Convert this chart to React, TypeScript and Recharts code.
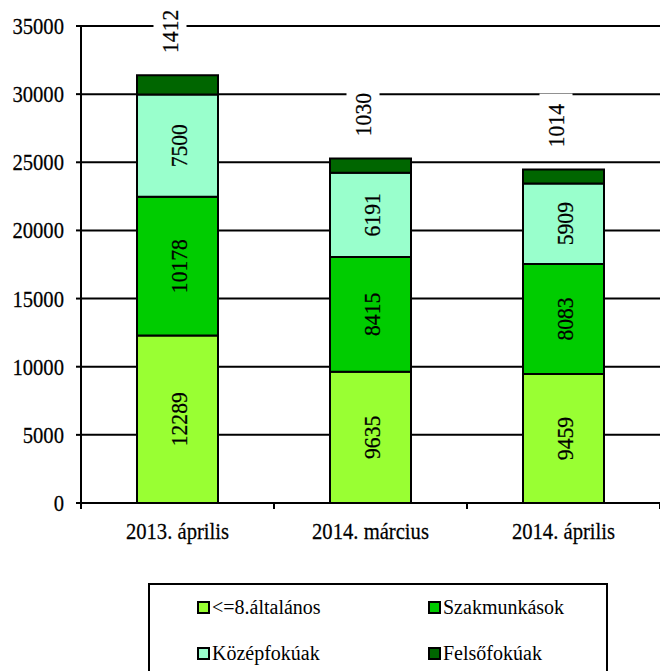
import React from 'react';
import { BarChart, Bar, XAxis, YAxis, CartesianGrid, LabelList } from 'recharts';

const categories = ['2013. április', '2014. március', '2014. április'];
const altalanos = [12289, 9635, 9459];
const szakmunkasok = [10178, 8415, 8083];
const kozepfokuak = [7500, 6191, 5909];
const felsofokuak = [1412, 1030, 1014];
const yTicks = [0, 5000, 10000, 15000, 20000, 25000, 30000, 35000];

const seriesKeys = ['a', 'b', 'c', 'd'];
const seriesNames = ['<=8.általános', 'Szakmunkások', 'Középfokúak', 'Felsőfokúak'];
const seriesColors = ['#99FF33', '#00CC00', '#99FFCC', '#006600'];

const data = categories.map((name, i) => ({
  name,
  a: altalanos[i],
  b: szakmunkasok[i],
  c: kozepfokuak[i],
  d: felsofokuak[i],
}));

const FONT = 'Liberation Serif, Times New Roman, serif';
const W = 660;
const H = 671;
const Y_AXIS_W = 81;
const PLOT_W = W - Y_AXIS_W;
const FS = 24;

const getBox = (props: any) => {
  const vb = props.viewBox || {};
  const x = Number(props.x ?? vb.x);
  const y = Number(props.y ?? vb.y);
  const width = Number(props.width ?? vb.width);
  const height = Number(props.height ?? vb.height);
  return { x, y, width, height };
};

// rotated text whose glyphs are centred on (cx, cy)
const VText = ({ cx, cy, value }: any) => (
  <g transform={`translate(${cx} ${cy}) rotate(-90) scale(0.9 1)`}>
    <text x={0} y={FS * 0.33} textAnchor="middle" fill="#000" stroke="#000" strokeWidth={0.25} fontSize={FS} style={{ fontFamily: FONT }}>
      {value}
    </text>
  </g>
);

const InnerLabel = (props: any) => {
  const { x, y, width, height } = getBox(props);
  return <VText cx={x + width / 2 + 2} cy={y + height / 2} value={props.value} />;
};

const TopLabel = (props: any) => {
  const { x, y, width } = getBox(props);
  const cx = x + width / 2 - 7;
  const cy = y - 44;
  return (
    <g>
      <rect x={cx - 17} y={cy - 32} width={33} height={64} fill="#fff" />
      <VText cx={cx} cy={cy} value={props.value} />
    </g>
  );
};

const XTick = (props: any) => {
  const { x, y, payload, index } = props;
  const step = PLOT_W / categories.length;
  return (
    <g>
      <line x1={x - step / 2} x2={x - step / 2} y1={y} y2={y + 6} stroke="#000" strokeWidth={2} />
      {index === categories.length - 1 && (
        <line x1={x + step / 2} x2={x + step / 2} y1={y} y2={y + 6} stroke="#000" strokeWidth={2} />
      )}
      <g transform={`translate(${x} ${y + 36}) scale(0.86 1)`}>
        <text x={0} y={0} textAnchor="middle" fill="#000" stroke="#000" strokeWidth={0.25} fontSize={FS} style={{ fontFamily: FONT }}>
          {payload.value}
        </text>
      </g>
    </g>
  );
};

const YTick = (props: any) => {
  const { y, payload } = props;
  return (
    <g>
      <line x1={Y_AXIS_W - 5} x2={Y_AXIS_W} y1={y} y2={y} stroke="#000" strokeWidth={2} />
      <g transform={`translate(${Y_AXIS_W - 17} ${y + 8}) scale(0.86 1)`}>
        <text x={0} y={0} textAnchor="end" fill="#000" stroke="#000" strokeWidth={0.25} fontSize={FS} style={{ fontFamily: FONT }}>
          {payload.value}
        </text>
      </g>
    </g>
  );
};

export default function App() {
  return (
    <div
      style={{
        position: 'absolute',
        left: 0,
        top: 0,
        width: W,
        height: H,
        overflow: 'hidden',
        background: '#fff',
        fontFamily: FONT,
      }}
    >
      <BarChart width={W} height={H} data={data} margin={{ top: 26, right: 0, left: 0, bottom: 128 }}>
        <CartesianGrid horizontal vertical={false} stroke="#000" strokeWidth={2} strokeOpacity={1} />
        <XAxis
          dataKey="name"
          height={40}
          axisLine={{ stroke: '#000', strokeWidth: 2 }}
          tickLine={false}
          tickSize={0}
          tickMargin={0}
          tick={<XTick />}
          interval={0}
        />
        <YAxis
          width={Y_AXIS_W}
          domain={[0, 35000]}
          ticks={yTicks}
          interval={0}
          axisLine={{ stroke: '#000', strokeWidth: 2 }}
          tickLine={false}
          tickSize={0}
          tickMargin={0}
          tick={<YTick />}
        />
        {seriesKeys.map((k, i) => (
          <Bar
            key={k}
            dataKey={k}
            name={seriesNames[i]}
            stackId="s"
            fill={seriesColors[i]}
            stroke="#000"
            strokeWidth={2}
            barSize={81}
            isAnimationActive={false}
          >
            <LabelList dataKey={k} content={i === 3 ? <TopLabel /> : <InnerLabel />} />
          </Bar>
        ))}
      </BarChart>
      <div
        style={{
          position: 'absolute',
          left: 148,
          top: 583,
          width: 460,
          height: 120,
          border: '2px solid #000',
          boxSizing: 'border-box',
          background: '#fff',
        }}
      >
        {seriesNames.map((n, i) => {
          const col = i % 2;
          const row = Math.floor(i / 2);
          return (
            <div
              key={n}
              style={{
                position: 'absolute',
                left: col === 0 ? 47 : 278,
                top: row === 0 ? 10 : 56,
                height: 24,
                display: 'flex',
                alignItems: 'center',
                fontSize: 20,
                fontFamily: FONT,
                color: '#000',
                whiteSpace: 'nowrap',
              }}
            >
              <span
                style={{
                  display: 'inline-block',
                  width: 9,
                  height: 9,
                  border: '2px solid #000',
                  background: seriesColors[i],
                  marginRight: 2,
                }}
              />
              {n}
            </div>
          );
        })}
      </div>
    </div>
  );
}
